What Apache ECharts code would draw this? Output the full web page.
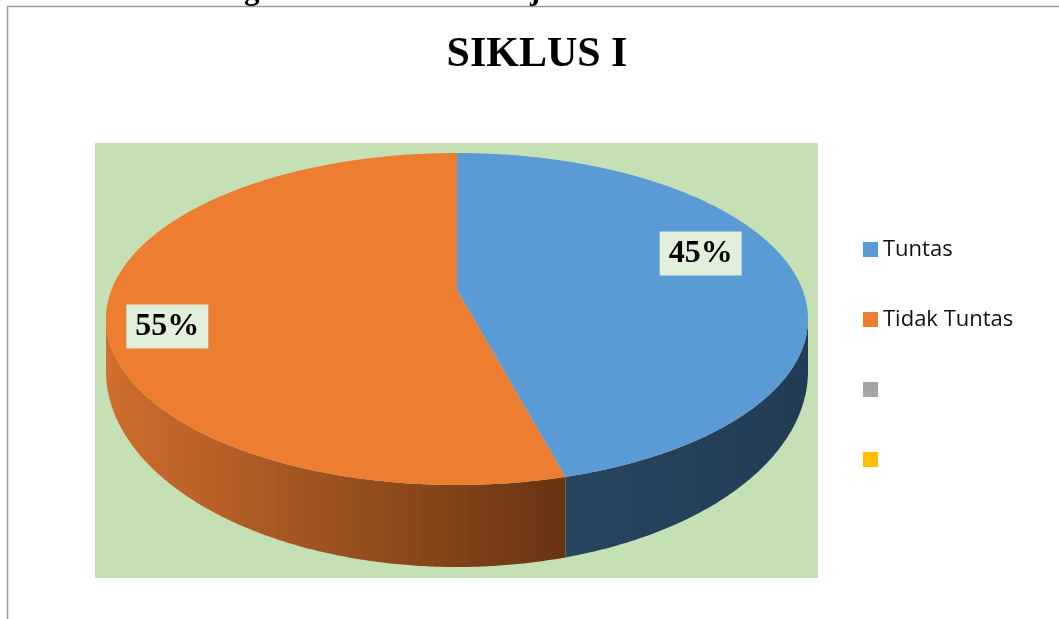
<!DOCTYPE html>
<html>
<head>
<meta charset="utf-8">
<script src="https://cdn.jsdelivr.net/npm/echarts@6/dist/echarts.min.js"></script>
<style>
  html, body { margin: 0; padding: 0; background: #ffffff; }
  #chart { width: 1059px; height: 619px; }
</style>
</head>
<body>
<div id="chart"></div>
<script>
// ---- data ----
const categories = ['Tuntas', 'Tidak Tuntas', '', ''];
const values = [45, 55, null, null];
const topColors = ['#5B9BD5', '#ED7D31', '#A5A5A5', '#FFC000'];
const sideColors = [['#28455F', '#233C54'], ['#CF6E2D', '#673412'], ['#7C7C7C', '#535353'], ['#BF9000', '#7F6000']];
const titleText = 'SIKLUS I';
const headingText = 'Tingkat Ketuntasan Belajar Siswa Pada Tes Siklus I';

const chart = echarts.init(document.getElementById('chart'), null, { renderer: 'canvas' });

// ---- geometry of the tilted pie ----
const P = {
  cx: 457, cy: 319, rx: 351, ry: 166, apexY: 290,
  depthFront: 82, depthSide: 52,
  // labels sit on their own inner ellipse (perspective-shifted)
  labelCx: 434, labelCy: 290, labelRx: 270, labelRy: 234
};
const total = values.reduce((s, v) => s + (v || 0), 0);
const startFrac = [];
let acc = 0;
values.forEach(v => { startFrac.push(acc / total); acc += (v || 0); });

// angle measured clockwise from 12 o'clock
function pt(a) { return [P.cx + P.rx * Math.sin(a), P.cy - P.ry * Math.cos(a)]; }
function depth(a) { return P.depthSide + (P.depthFront - P.depthSide) * Math.max(0, -Math.cos(a)); }
function arcPts(a0, a1) {
  const n = Math.max(2, Math.ceil(Math.abs(a1 - a0) / (Math.PI / 360)));
  const out = [];
  for (let k = 0; k <= n; k++) out.push(pt(a0 + (a1 - a0) * k / n));
  return out;
}

// legend keys: blank categories still need unique names
const legendNames = categories.map((c, i) => c || '\u200b'.repeat(i));

function renderSlice(params, api) {
  const i = params.dataIndex;
  const v = api.value(0);
  if (!v) return { type: 'group', children: [] };
  const a0 = startFrac[i] * 2 * Math.PI;
  const a1 = a0 + v / total * 2 * Math.PI;
  const children = [];

  // front wall: the rim portion facing the viewer (lower half of the ellipse)
  const s0 = Math.max(a0, Math.PI / 2), s1 = Math.min(a1, 3 * Math.PI / 2);
  if (s1 > s0) {
    const rim = arcPts(s0, s1);
    const n = rim.length;
    const lower = rim.map((p, k) => {
      const a = s0 + (s1 - s0) * k / (n - 1);
      return [p[0], p[1] + depth(a)];
    }).reverse();
    const xs = rim.map(p => p[0]);
    children.push({
      type: 'polygon', z2: 1,
      shape: { points: rim.concat(lower) },
      style: {
        fill: {
          type: 'linear', global: true,
          x: Math.min.apply(null, xs), y: 0, x2: Math.max.apply(null, xs), y2: 0,
          colorStops: [{ offset: 0, color: sideColors[i][0] }, { offset: 1, color: sideColors[i][1] }]
        }
      }
    });
  }

  // top face
  children.push({
    type: 'polygon', z2: 5,
    shape: { points: [[P.cx, P.apexY]].concat(arcPts(a0, a1)) },
    style: { fill: topColors[i] }
  });

  // percentage label
  const mid = (a0 + a1) / 2;
  children.push({
    type: 'text', z2: 10,
    x: P.labelCx + P.labelRx * Math.sin(mid),
    y: P.labelCy - P.labelRy * Math.cos(mid),
    style: {
      text: Math.round(v / total * 100) + '%',
      font: 'bold 32px "Liberation Serif", "Times New Roman", serif',
      fill: '#000000',
      backgroundColor: '#E2EFDA',
      padding: [6, 9, 6, 9],
      align: 'center',
      verticalAlign: 'middle'
    }
  });
  return { type: 'group', children: children };
}

const option = {
  backgroundColor: '#ffffff',
  animation: false,
  graphic: [
    { type: 'text', x: 543, y: -9, z: 1,
      style: { text: headingText, font: 'bold 31px "Liberation Serif", serif', fill: '#000', align: 'center', verticalAlign: 'middle' } },
    { type: 'rect', z: 0, shape: { x: 7.5, y: 6.5, width: 1100, height: 700 },
      style: { fill: '#ffffff', stroke: '#9E9E9E', lineWidth: 1.5 } },
    { type: 'rect', z: 1, shape: { x: 95, y: 143, width: 723, height: 435 },
      style: { fill: '#C5E0B4' } },
    { type: 'text', x: 537, y: 55, z: 1,
      style: { text: titleText, font: 'bold 42px "Liberation Serif", "Times New Roman", serif', fill: '#000', align: 'center', verticalAlign: 'middle' } }
  ],
  legend: {
    orient: 'vertical',
    left: 858,
    top: 233.5,
    itemWidth: 15,
    itemHeight: 15,
    itemGap: 48,
    icon: 'rect',
    selectedMode: false,
    data: legendNames,
    textStyle: { fontFamily: '"Open Sans", sans-serif', fontSize: 22, lineHeight: 22, color: '#111111' }
  },
  series: [
    {
      type: 'custom',
      coordinateSystem: 'none',
      z: 5,
      silent: true,
      data: values.map((v, i) => ({ name: legendNames[i], value: v || 0 })),
      renderItem: renderSlice
    },
    {
      // carries the category colours for the legend only
      type: 'pie',
      radius: [0, 0],
      center: [-100, -100],
      silent: true,
      label: { show: false },
      labelLine: { show: false },
      data: values.map((v, i) => ({ name: legendNames[i], value: v || 0, itemStyle: { color: topColors[i] } }))
    }
  ]
};

chart.setOption(option);
</script>
</body>
</html>
